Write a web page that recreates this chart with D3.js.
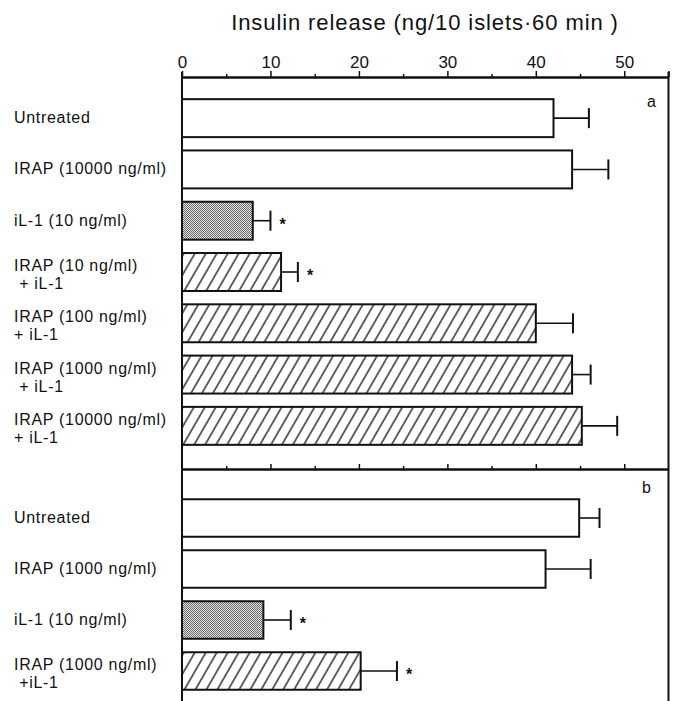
<!DOCTYPE html>
<html>
<head>
<meta charset="utf-8">
<script src="https://cdn.jsdelivr.net/npm/d3@7"></script>
<style>
  body { margin: 0; background: #fff; }
  text { font-family: "Liberation Sans", Arial, sans-serif; fill: #111; }
  .lab { font-size: 16px; letter-spacing: 0.7px; }
  .tick text { font-family: "Liberation Sans", Arial, sans-serif; font-size: 17px; fill: #111; }
</style>
</head>
<body>
<script>
// panel a data
var labels_a = [["Untreated"], ["IRAP (10000 ng/ml)"], ["iL-1 (10 ng/ml)"],
                ["IRAP (10 ng/ml)", " + iL-1"], ["IRAP (100 ng/ml)", "+ iL-1"],
                ["IRAP (1000 ng/ml)", " + iL-1"], ["IRAP (10000 ng/ml)", "+ iL-1"]]
var means_a = [42.0, 44.1, 8.0, 11.2, 40.0, 44.1, 45.2]
var errs_a = [4.0, 4.1, 2.0, 1.9, 4.2, 2.1, 4.0]
var fills_a = ["open", "open", "stipple", "hatch", "hatch", "hatch", "hatch"]
var sig_a = [false, false, true, true, false, false, false]

// panel b data
var labels_b = [["Untreated"], ["IRAP (1000 ng/ml)"], ["iL-1 (10 ng/ml)"],
                ["IRAP (1000 ng/ml)", " +iL-1"]]
var means_b = [44.9, 41.1, 9.2, 20.2]
var errs_b = [2.3, 5.1, 3.1, 4.1]
var fills_b = ["open", "open", "stipple", "hatch"]
var sig_b = [false, false, true, true]

var major_ticks = [0, 10, 20, 30, 40, 50]
var minor_ticks = [5, 15, 25, 35, 45]

var width = 676, height = 701
var axis_y = 77, sep_y = 469

var svg = d3.select("body").append("svg")
    .attr("width", width)
    .attr("height", height)

// patterns for the bars
var defs = svg.append("defs")
var stip = defs.append("pattern")
    .attr("id", "stipple")
    .attr("patternUnits", "userSpaceOnUse")
    .attr("width", 2).attr("height", 2)
stip.append("rect").attr("width", 2).attr("height", 2).attr("fill", "#e2e2e2")
stip.append("rect").attr("width", 1).attr("height", 1).attr("fill", "#6a6a6a")
stip.append("rect").attr("x", 1).attr("y", 1).attr("width", 1).attr("height", 1).attr("fill", "#6a6a6a")

var hatch = defs.append("pattern")
    .attr("id", "hatch")
    .attr("patternUnits", "userSpaceOnUse")
    .attr("width", 9.5).attr("height", 9.5)
    .attr("patternTransform", "rotate(30)")
hatch.append("rect").attr("width", 9.5).attr("height", 9.5).attr("fill", "#fff")
hatch.append("line")
    .attr("x1", 1).attr("y1", 0).attr("x2", 1).attr("y2", 9.5)
    .attr("stroke", "#111").attr("stroke-width", 1.3)

var x = d3.scaleLinear()
    .domain([0, 55])
    .range([182, 668.5])

var y_a = d3.scaleBand()
    .domain(d3.range(means_a.length))
    .range([92.5, 451.5])
    .paddingInner(0.26)
    .paddingOuter(0.13)

var y_b = d3.scaleBand()
    .domain(d3.range(means_b.length))
    .range([492.5, 696.5])
    .paddingInner(0.265)
    .paddingOuter(0.1325)

function fill_of(f) {
    if (f == "stipple") return "url(#stipple)"
    if (f == "hatch") return "url(#hatch)"
    return "#fff"
}

function draw_panel(means, errs, fills, sig, labels, y) {
    var data = means.map(function(m, i) {
        return {i: i, mean: m, err: errs[i], fill: fills[i], sig: sig[i], label: labels[i]}
    })
    var g = svg.append("g")
    var rows = g.selectAll(".row")
        .data(data)
        .enter().append("g")
        .attr("class", "row")

    function cy(d) { return y(d.i) + y.bandwidth() / 2; }

    rows.append("rect")
        .attr("x", x(0))
        .attr("y", function(d) { return y(d.i); })
        .attr("width", function(d) { return x(d.mean) - x(0); })
        .attr("height", y.bandwidth())
        .attr("fill", function(d) { return fill_of(d.fill); })
        .attr("stroke", "#111")
        .attr("stroke-width", 2)

    // error bars
    rows.append("line")
        .attr("x1", function(d) { return x(d.mean); })
        .attr("x2", function(d) { return x(d.mean + d.err); })
        .attr("y1", cy)
        .attr("y2", cy)
        .attr("stroke", "#111").attr("stroke-width", 1.6)
    rows.append("line")
        .attr("x1", function(d) { return x(d.mean + d.err); })
        .attr("x2", function(d) { return x(d.mean + d.err); })
        .attr("y1", function(d) { return cy(d) - 10; })
        .attr("y2", function(d) { return cy(d) + 10; })
        .attr("stroke", "#111").attr("stroke-width", 2)

    rows.filter(function(d) { return d.sig; })
        .append("text")
        .attr("x", function(d) { return x(d.mean + d.err) + 9; })
        .attr("y", function(d) { return cy(d) + 9; })
        .style("font-size", "16px")
        .style("font-weight", "bold")
        .text("*")

    // category labels
    rows.each(function(d) {
        var lines = d.label
        var t = d3.select(this).append("text")
            .attr("class", "lab")
            .attr("x", 14)
            .attr("y", lines.length == 1 ? cy(d) + 5 : cy(d) - 1)
        lines.forEach(function(s, k) {
            t.append("tspan")
                .attr("x", 14)
                .attr("dy", k == 0 ? 0 : 18)
                .style("white-space", "pre")
                .text(s)
        })
    })
}

draw_panel(means_a, errs_a, fills_a, sig_a, labels_a, y_a)
draw_panel(means_b, errs_b, fills_b, sig_b, labels_b, y_b)

// top axis
svg.append("g")
    .attr("class", "axis")
    .attr("transform", "translate(0," + axis_y + ")")
    .call(d3.axisTop(x).tickValues(major_ticks.concat([55])).tickSize(6).tickSizeOuter(0).tickPadding(3)
        .tickFormat(function(d) { return d == 55 ? "" : d; }))
svg.append("g")
    .attr("class", "axis")
    .attr("transform", "translate(0," + axis_y + ")")
    .call(d3.axisTop(x).tickValues(minor_ticks).tickSize(3).tickSizeOuter(0).tickFormat(""))

// separator between panels
svg.append("g")
    .attr("class", "axis")
    .attr("transform", "translate(0," + sep_y + ")")
    .call(d3.axisTop(x).tickValues(major_ticks.slice(1)).tickSize(5).tickSizeOuter(0).tickFormat(""))
svg.append("g")
    .attr("class", "axis")
    .attr("transform", "translate(0," + sep_y + ")")
    .call(d3.axisTop(x).tickValues(minor_ticks).tickSize(3).tickSizeOuter(0).tickFormat(""))

svg.selectAll(".axis .domain").attr("stroke", "#111").attr("stroke-width", 2)
svg.selectAll(".axis .tick line").attr("stroke", "#111").attr("stroke-width", 1.5)

// frame lines
svg.append("line")
    .attr("x1", x(0)).attr("x2", x(0))
    .attr("y1", axis_y - 5).attr("y2", height)
    .attr("stroke", "#111").attr("stroke-width", 2)
svg.append("line")
    .attr("x1", x(55)).attr("x2", x(55))
    .attr("y1", axis_y - 5).attr("y2", height)
    .attr("stroke", "#111").attr("stroke-width", 2)

// panel letters
svg.append("text").attr("x", 647).attr("y", 107).style("font-size", "16px").text("a")
svg.append("text").attr("x", 642).attr("y", 493).style("font-size", "16px").text("b")

// title
svg.append("text")
    .attr("x", 425)
    .attr("y", 30)
    .attr("text-anchor", "middle")
    .style("font-size", "22px")
    .style("letter-spacing", "0.9px")
    .text("Insulin release (ng/10 islets\u00b760 min )")
</script>
</body>
</html>
